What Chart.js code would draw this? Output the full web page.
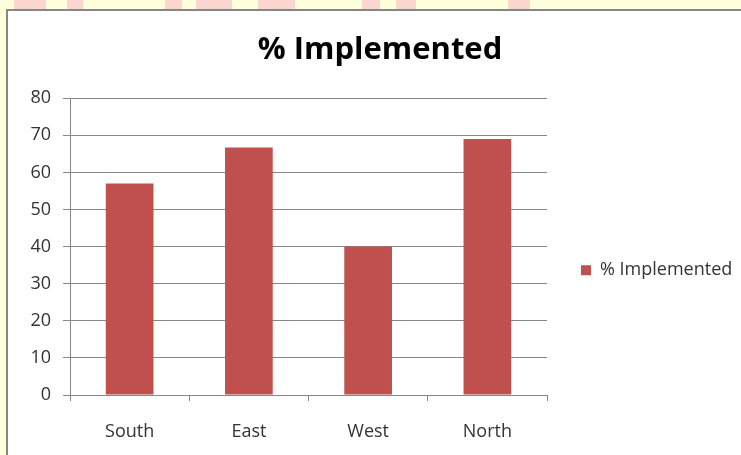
<!DOCTYPE html>
<html>
<head>
<meta charset="utf-8">
<script src="https://cdn.jsdelivr.net/npm/chart.js@4.4.1/dist/chart.umd.min.js"></script>
<style>
  html, body { margin: 0; padding: 0; }
  body { width: 741px; height: 455px; background: #ffffdc; position: relative; overflow: hidden; }
  .blob { position: absolute; top: 0; height: 9px; background: #fcd7cf; }
  #frame { position: absolute; left: 6px; top: 9px; width: 760px; height: 460px; background: #fff; border-top: 2px solid #868686; border-left: 2px solid #868686; }
  #wrap { position: absolute; left: 0; top: 0; width: 741px; height: 455px; }
</style>
</head>
<body>
<div class="blob" style="left:14px;width:32px"></div>
<div class="blob" style="left:67px;width:16px"></div>
<div class="blob" style="left:165px;width:17px"></div>
<div class="blob" style="left:196px;width:36px"></div>
<div class="blob" style="left:258px;width:37px"></div>
<div class="blob" style="left:362px;width:18px"></div>
<div class="blob" style="left:396px;width:20px"></div>
<div class="blob" style="left:508px;width:22px"></div>
<div id="frame"></div>
<div id="wrap"><canvas id="myBarChart" width="741" height="455"></canvas></div>
<script>
// data
const regions = ["South", "East", "West", "North"];
const implemented = [57, 66.7, 40, 69];
const yTicks = [0, 10, 20, 30, 40, 50, 60, 70, 80];

const gridGray = "#878787";
const textColor = "#333333";
const fontFamily = "'Open Sans', sans-serif";

const ctx = document.getElementById("myBarChart").getContext("2d");
new Chart(ctx, {
  type: "bar",
  data: {
    labels: regions,
    datasets: [{
      label: "% Implemented",
      data: implemented,
      backgroundColor: "#C0504D",
      borderWidth: 0,
      categoryPercentage: 1,
      barPercentage: 0.4,
    }],
  },
  options: {
    responsive: false,
    animation: false,
    layout: {
      padding: { left: 19, top: 0, right: 0, bottom: 0 }
    },
    scales: {
      y: {
        min: 0,
        max: 80,
        afterFit: (scale) => { scale.width = 51; },
        afterBuildTicks: (scale) => { scale.ticks = yTicks.map(v => ({ value: v })); },
        border: { color: gridGray, width: 1 },
        grid: { color: gridGray, tickLength: 7 },
        ticks: { color: textColor, padding: 12, font: { family: fontFamily, size: 18 } }
      },
      x: {
        afterFit: (scale) => { scale.height = 60; },
        border: { color: gridGray, width: 1 },
        grid: { offset: true, drawOnChartArea: false, color: gridGray, tickLength: 6 },
        ticks: { color: textColor, padding: 20, font: { family: fontFamily, size: 18 } }
      }
    },
    plugins: {
      title: {
        display: true,
        text: "% Implemented",
        color: "#000",
        font: { family: fontFamily, size: 31, weight: "bold" },
        padding: { top: 32, bottom: 29 }
      },
      legend: {
        position: "right",
        fullSize: false,
        maxWidth: 194,
        title: { display: true, text: "", padding: { top: 46, bottom: 0 }, font: { size: 1 } },
        labels: {
          boxWidth: 10,
          boxHeight: 10,
          padding: 34,
          color: textColor,
          font: { family: fontFamily, size: 18 }
        }
      },
      tooltip: { enabled: false }
    }
  }
});
</script>
</body>
</html>
